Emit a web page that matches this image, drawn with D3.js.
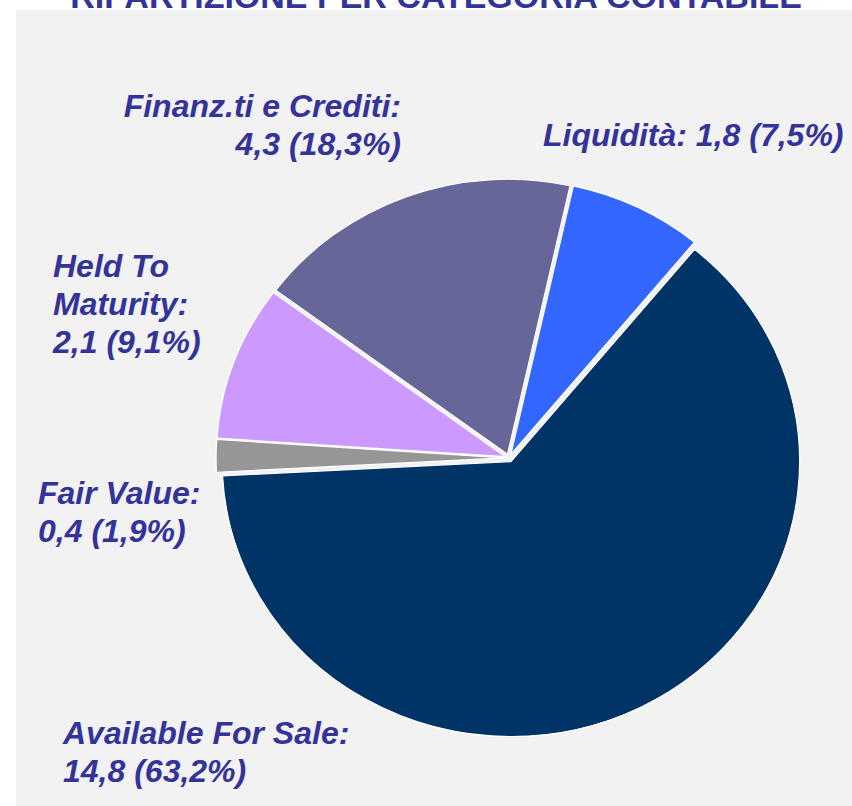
<!DOCTYPE html>
<html lang="en">
    <head>
        <meta charset="utf-8">
        <title>Ripartizione per categoria contabile</title>
        <script src="https://d3js.org/d3.v7.min.js"></script>
        <style type="text/css">
            body{
                margin: 0;
                background: white;
            }
            .labels{
                font-family: "Liberation Sans", Arial, sans-serif;
                font-size: 32px;
                font-weight: bold;
                font-style: italic;
                fill: #333399;
            }
            .title{
                font-family: "Liberation Sans", Arial, sans-serif;
                font-size: 34px;
                font-weight: bold;
                fill: #333399;
            }
        </style>
    </head>
    <body>
        <script type="text/javascript">

            //data
            const categories = ["Liquidità", "Available For Sale", "Fair Value", "Held To Maturity", "Finanz.ti e Crediti"];
            const amounts = [1.8, 14.8, 0.4, 2.1, 4.3];
            const shares = [7.5, 63.2, 1.9, 9.1, 18.3];
            const colors = ["#3366ff", "#003366", "#969696", "#cc99ff", "#666699"];

            //label layout: x, first baseline, anchor, words on first line of the name
            const labelPos = [
                {x: 543, y: 146, anchor: "start", oneLine: true},
                {x: 63, y: 744, anchor: "start"},
                {x: 38, y: 504, anchor: "start"},
                {x: 53, y: 277, anchor: "start", split: 2},
                {x: 401, y: 117, anchor: "end"}
            ];

            const w = 852;
            const h = 806;
            const cx = 509;
            const cy = 458;
            const radius = 275;
            const xStretch = 1.05;
            const explode = 4;
            const lineH = 38;

            const fmt = v => String(v).replace(".", ",");

            const data = categories.map((c, i) => ({name: c, amount: amounts[i], share: shares[i], color: colors[i]}));

            const svg = d3.select("body")
                .append("svg")
                .attr("width", w)
                .attr("height", h);

            //panel
            svg.append("rect")
                .attr("x", 16)
                .attr("y", 10)
                .attr("width", w - 16)
                .attr("height", h - 10)
                .attr("fill", "#f2f2f2");

            //title (cut off at the top as in the source)
            svg.append("text")
                .attr("class", "title")
                .attr("x", 436)
                .attr("y", 8)
                .attr("text-anchor", "middle")
                .text("RIPARTIZIONE PER CATEGORIA CONTABILE");

            const start = 12.5 * Math.PI / 180;
            const pie = d3.pie()
                .value(d => d.share)
                .sort(null)
                .startAngle(start)
                .endAngle(start + 2 * Math.PI);

            const arc = d3.arc()
                .innerRadius(0)
                .outerRadius(radius);

            const chart = svg.append("g")
                .attr("transform", "translate(" + cx + "," + cy + ") scale(" + xStretch + ",1)");

            chart.selectAll("path")
                .data(pie(data))
                .enter()
                .append("path")
                .attr("transform", d => {
                    const mid = (d.startAngle + d.endAngle) / 2;
                    return "translate(" + (Math.sin(mid) * explode) + "," + (-Math.cos(mid) * explode) + ")";
                })
                .attr("d", arc)
                .attr("fill", d => d.data.color)
                .attr("stroke", "#ffffff")
                .attr("stroke-width", 1.2);

            //labels
            data.forEach((d, i) => {
                const p = labelPos[i];
                const value = fmt(d.amount) + " (" + fmt(d.share) + "%)";
                let lines;
                if (p.oneLine) {
                    lines = [d.name + ": " + value];
                } else if (p.split) {
                    const words = d.name.split(" ");
                    lines = [words.slice(0, p.split).join(" "), words.slice(p.split).join(" ") + ":", value];
                } else {
                    lines = [d.name + ":", value];
                }
                const t = svg.append("text")
                    .attr("class", "labels")
                    .attr("text-anchor", p.anchor);
                lines.forEach((l, j) => {
                    t.append("tspan")
                        .attr("x", p.x)
                        .attr("y", p.y + j * lineH)
                        .text(l);
                });
            });

        </script>
    </body>
</html>
